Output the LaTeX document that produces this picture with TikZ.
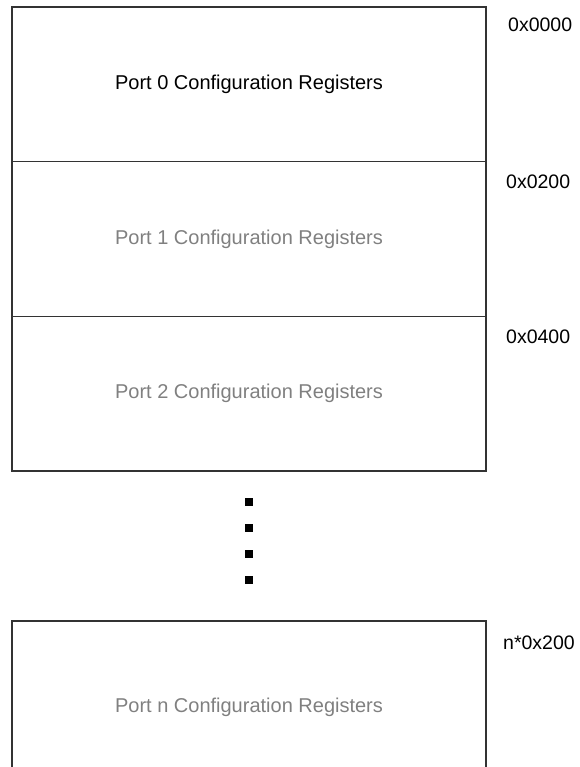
\documentclass[tikz,border=0pt]{standalone}
\usepackage{fontspec}
\setmainfont{Liberation Sans}
\usetikzlibrary{positioning}

\tikzset{
  regbox/.style={draw=black!80, line width=1.2pt, minimum width=474pt,
    minimum height=154.7pt, inner sep=0pt, outer sep=0pt,
    font=\fontsize{20}{24}\selectfont},
  dimtext/.style={text=black!50},
  addr/.style={anchor=west, inner sep=0pt, font=\fontsize{19.5}{23}\selectfont},
  dotsq/.style={fill=black, minimum size=8pt, inner sep=0pt}
}

\begin{document}
\begin{tikzpicture}[x=1pt,y=-1pt]
    \useasboundingbox (0,0) rectangle (579,767);
    % register blocks
    \node[regbox] (p0) at (249,84.3) {Port 0 Configuration Registers};
    \node[regbox, dimtext, below=0pt of p0] (p1) {Port 1 Configuration Registers};
    \node[regbox, dimtext, below=0pt of p1] (p2) {Port 2 Configuration Registers};
    \node[regbox, dimtext, minimum height=172pt, below=150pt of p2] (pn) {Port n Configuration Registers};
    % offsets
    \node[addr] (a0) at ([xshift=22pt,yshift=-18pt]p0.north east) {0x0000};
    \node[addr] (a1) at ([xshift=20pt,yshift=-20pt]p1.north east) {0x0200};
    \node[addr] (a2) at ([xshift=20pt,yshift=-20pt]p2.north east) {0x0400};
    \node[addr] (an) at ([xshift=17pt,yshift=-22pt]pn.north east) {n*0x200};
    % ellipsis
    \foreach \i in {1,...,4}
        \node[dotsq] (dot\i) at ([yshift=-(5+26*\i)*1pt]p2.south) {};
\end{tikzpicture}
\end{document}
